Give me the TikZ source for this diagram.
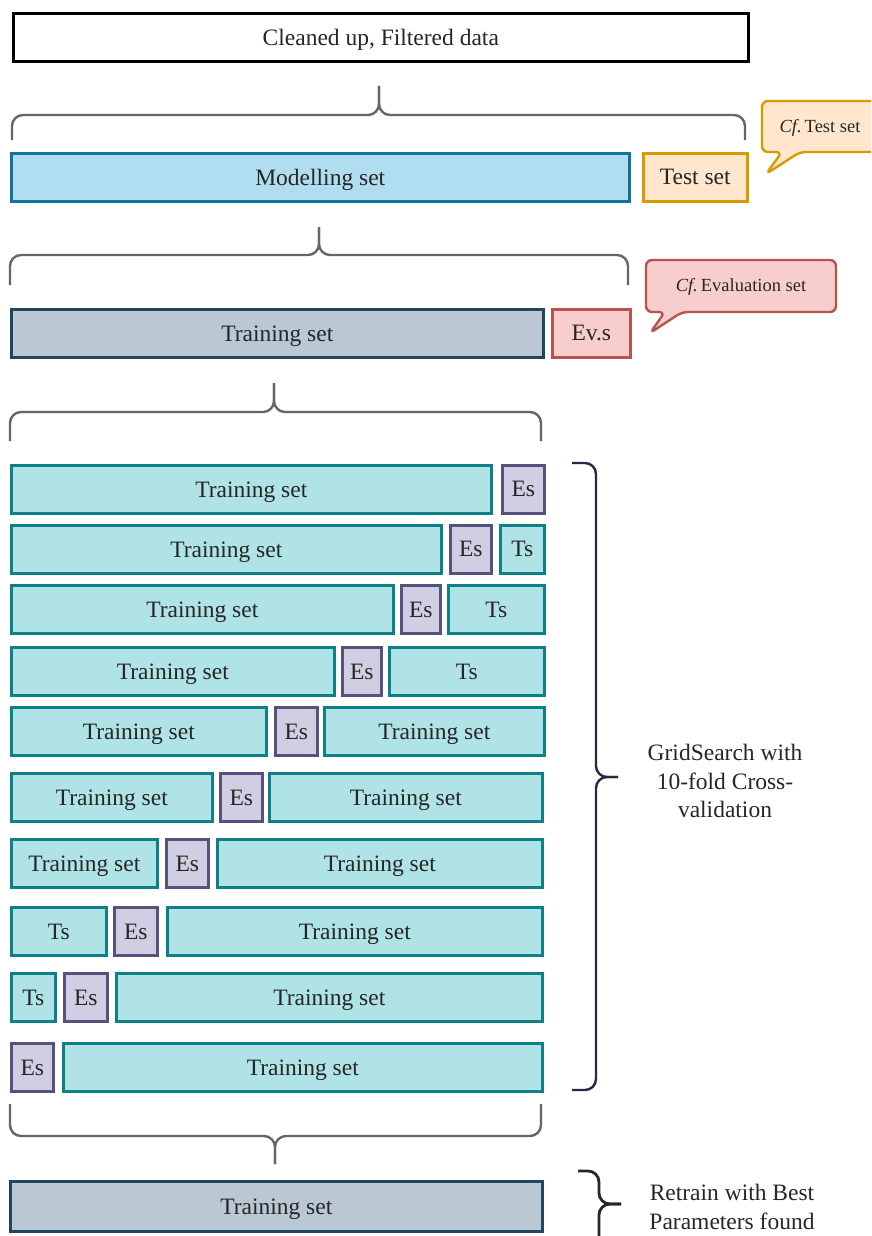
\documentclass[tikz,border=0pt]{standalone}
\usepackage{fontspec}
\setmainfont{Liberation Serif}
\definecolor{blueF}{HTML}{B1DDF0}\definecolor{blueD}{HTML}{10739E}
\definecolor{orF}{HTML}{FFE6CC}\definecolor{orD}{HTML}{D79B00}
\definecolor{redF}{HTML}{F8CECC}\definecolor{redD}{HTML}{B85450}
\definecolor{grF}{HTML}{BAC8D3}\definecolor{grD}{HTML}{23445D}
\definecolor{tlF}{HTML}{B0E3E6}\definecolor{tlD}{HTML}{0E8088}
\definecolor{puF}{HTML}{D0CEE2}\definecolor{puD}{HTML}{56517E}
\definecolor{brc}{HTML}{666666}
\definecolor{rbrc}{HTML}{2E2640}
\begin{document}
\begin{tikzpicture}[x=1pt,y=-1pt,
  base/.style={draw, line width=2.6pt, anchor=north west, inner sep=0pt, minimum height=48pt, text depth=0pt, font=\fontsize{23.5}{28}\selectfont, text=black!85},
  topbox/.style={base, fill=white, draw=black},
  modbox/.style={base, fill=blueF, draw=blueD},
  testbox/.style={base, fill=orF, draw=orD},
  evbox/.style={base, fill=redF, draw=redD},
  graybox/.style={base, fill=grF, draw=grD},
  trbox/.style={base, fill=tlF, draw=tlD},
  esbox/.style={base, fill=puF, draw=puD},
  brace/.style={draw=brc, line width=2.4pt, rounded corners=11pt},
  rbrace/.style={draw=rbrc, line width=2.4pt, rounded corners=11pt},
  callout/.style={line width=2.4pt, rounded corners=6pt},
  ctext/.style={font=\fontsize{18.5}{22}\selectfont, text=black!85},
  side/.style={font=\fontsize{23.5}{28.5}\selectfont, align=center, text=black!85}]
\clip (0,0) rectangle (871,1236);
\fill[white] (0,0) rectangle (871,1236);

% top
\node[topbox, minimum width=735pt] (clean) at (12,12) {Cleaned up, Filtered data};
\path[brace] (12,140) -- (12,115) -- (379,115) -- (379,86);
\path[brace] (745,140) -- (745,115) -- (379,115) -- (379,86);

\node[modbox, minimum width=618pt] (model) at (10,152) {Modelling set};
\node[testbox, minimum width=104pt] (test) at (642,152) {Test set};

\path[callout, fill=orF, draw=orD] (762,101) -- (885,101) -- (885,152) -- (800,152) -- (766,174) -- (782,152) -- (762,152) -- cycle;
\node[ctext] (cftest) at (820,128) {\textit{Cf.}\,Test set};

\path[brace] (10,285) -- (10,255) -- (319,255) -- (319,227);
\path[brace] (628,285) -- (628,255) -- (319,255) -- (319,227);

\node[graybox, minimum width=532pt] (train0) at (10,308) {Training set};
\node[evbox, minimum width=78pt] (evs) at (551,308) {Ev.s};

\path[callout, fill=redF, draw=redD] (646,260) -- (836,260) -- (836,312) -- (682,312) -- (650,333) -- (665,312) -- (646,312) -- cycle;
\node[ctext] (cfev) at (741,287) {\textit{Cf.}\,Evaluation set};

\path[brace] (10,441) -- (10,412) -- (274,412) -- (274,383);
\path[brace] (541,441) -- (541,412) -- (274,412) -- (274,383);

% folds
\node[trbox, minimum width=480pt] (r1a) at (10,464) {Training set};
\node[esbox, minimum width=42pt] (r1b) at (501,464) {Es};

\node[trbox, minimum width=430pt] (r2a) at (10,524) {Training set};
\node[esbox, minimum width=41pt] (r2b) at (449,524) {Es};
\node[trbox, minimum width=44pt] (r2c) at (499,524) {Ts};

\node[trbox, minimum width=382pt] (r3a) at (10,584) {Training set};
\node[esbox, minimum width=39pt] (r3b) at (400,584) {Es};
\node[trbox, minimum width=96pt] (r3c) at (447,584) {Ts};

\node[trbox, minimum width=323pt] (r4a) at (10,646) {Training set};
\node[esbox, minimum width=39pt] (r4b) at (341,646) {Es};
\node[trbox, minimum width=155pt] (r4c) at (388,646) {Ts};

\node[trbox, minimum width=255pt] (r5a) at (10,706) {Training set};
\node[esbox, minimum width=42pt] (r5b) at (274,706) {Es};
\node[trbox, minimum width=220pt] (r5c) at (323,706) {Training set};

\node[trbox, minimum width=201pt] (r6a) at (10,772) {Training set};
\node[esbox, minimum width=42pt] (r6b) at (219,772) {Es};
\node[trbox, minimum width=273pt] (r6c) at (268,772) {Training set};

\node[trbox, minimum width=146pt] (r7a) at (10,838) {Training set};
\node[esbox, minimum width=42pt] (r7b) at (165,838) {Es};
\node[trbox, minimum width=325pt] (r7c) at (216,838) {Training set};

\node[trbox, minimum width=95pt] (r8a) at (10,906) {Ts};
\node[esbox, minimum width=43pt] (r8b) at (113,906) {Es};
\node[trbox, minimum width=375pt] (r8c) at (166,906) {Training set};

\node[trbox, minimum width=44pt] (r9a) at (10,972) {Ts};
\node[esbox, minimum width=43pt] (r9b) at (63,972) {Es};
\node[trbox, minimum width=426pt] (r9c) at (115,972) {Training set};

\node[esbox, minimum width=42pt] (r10a) at (10,1042) {Es};
\node[trbox, minimum width=479pt] (r10b) at (62,1042) {Training set};

% right brace
\path[rbrace] (572,463) -- (596,463) -- (596,777) -- (618,777);
\path[rbrace] (572,1090) -- (596,1090) -- (596,777) -- (618,777);
\node[side] (grid) at (725,781) {GridSearch with\\10-fold Cross-\\validation};

% bottom brace
\path[brace] (10,1104) -- (10,1136) -- (275,1136) -- (275,1164);
\path[brace] (541,1104) -- (541,1136) -- (275,1136) -- (275,1164);

\node[graybox, minimum width=532pt, minimum height=50pt] (final) at (9,1180) {Training set};

\path[rbrace, draw=black!85, line width=2.8pt] (578,1171) -- (599,1171) -- (599,1204) -- (621,1204);
\path[rbrace, draw=black!85, line width=2.8pt] (578,1250) -- (599,1250) -- (599,1204) -- (621,1204);
\node[side] (retrain) at (732,1207) {Retrain with Best\\Parameters found};
\end{tikzpicture}
\end{document}
